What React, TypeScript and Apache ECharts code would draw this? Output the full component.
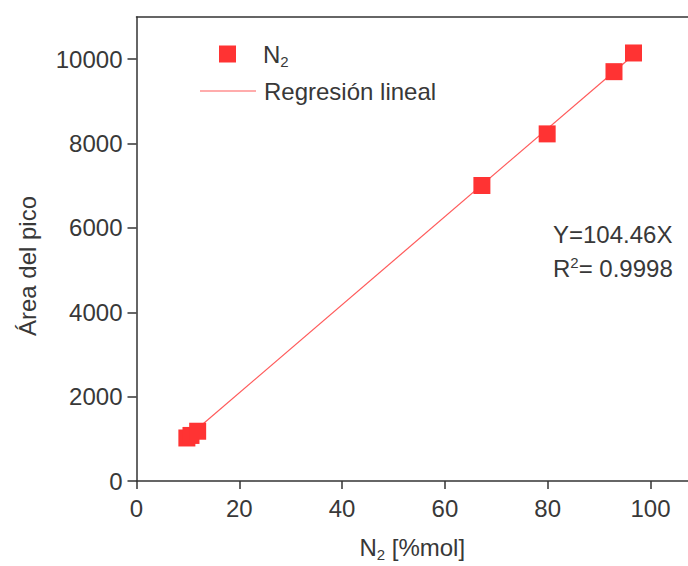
import React, { useEffect, useRef } from "react";
import * as echarts from "echarts";

const n2X = [9.8, 10.6, 11.9, 67.2, 79.9, 92.9, 96.7];
const areaY = [1020, 1080, 1180, 7006, 8229, 9704, 10147];
const regX = [11.9, 96.7];
const regY = [1243, 10101];
const xTicks = { min: 0, max: 107.3, interval: 20 };
const yTicks = { min: 0, max: 11000, interval: 2000 };

const FONT = "Liberation Sans, Arial, sans-serif";
const TXT = "#383838";
const FS = 24;

export default function App() {
  const ref = useRef<HTMLDivElement>(null);
  useEffect(() => {
    if (!ref.current) return;
    const chart = echarts.init(ref.current, null, { renderer: "svg" });
    const rich = {
      b: { fontSize: FS, fontFamily: FONT, color: TXT },
      s: { fontSize: 15, fontFamily: FONT, color: TXT, verticalAlign: "bottom" as const, padding: [14, 0, 0, 0] },
    };
    const axisLineStyle = { color: "#333", width: 1.5 };
    chart.setOption({
      animation: false,
      textStyle: { fontFamily: FONT },
      grid: {
        left: 136.5,
        top: 17,
        right: 0,
        bottom: 85,
        show: false,
        containLabel: false,
        outerBoundsMode: "none",
      },
      legend: [
        {
          data: [{ name: "N2", icon: "rect" }],
          left: 219,
          top: 42,
          padding: 0,
          itemWidth: 17,
          itemHeight: 17,
          formatter: () => "{b|N}{s|2}",
          textStyle: { rich, padding: [0, 0, 0, 22] },
        },
        {
          data: [{ name: "Regresión lineal", icon: "path://M0,0H56V1.2H0Z" }],
          left: 200,
          top: 79,
          padding: 0,
          itemWidth: 56,
          itemHeight: 22,
          textStyle: { fontSize: FS, fontFamily: FONT, color: TXT, padding: [0, 0, 0, 3] },
        },
      ],
      xAxis: [
        {
          type: "value",
          min: xTicks.min,
          max: xTicks.max,
          interval: xTicks.interval,
          name: "{b|N}{s|2}{b| [%mol]}",
          nameLocation: "middle",
          nameGap: 52,
          nameTextStyle: { rich },
          axisLine: { show: true, lineStyle: axisLineStyle },
          axisTick: { show: true, inside: false, length: 8, lineStyle: axisLineStyle },
          axisLabel: {
            fontSize: FS,
            fontFamily: FONT,
            color: TXT,
            margin: 15,
            showMaxLabel: false,
            formatter: (v: number) => String(v),
          },
          splitLine: { show: false },
        },
        {
          type: "value",
          position: "top",
          min: xTicks.min,
          max: xTicks.max,
          interval: xTicks.interval,
          axisLine: { show: true, onZero: false, lineStyle: axisLineStyle },
          axisTick: { show: false },
          axisLabel: { show: false },
          splitLine: { show: false },
        },
      ],
      yAxis: {
        type: "value",
        min: yTicks.min,
        max: yTicks.max,
        interval: yTicks.interval,
        name: "Área del pico",
        nameLocation: "middle",
        nameGap: 97,
        nameTextStyle: { fontSize: FS, fontFamily: FONT, color: TXT, padding: [0, 34, 0, 0] },
        axisLine: { show: true, lineStyle: axisLineStyle },
        axisTick: { show: true, inside: false, length: 9, lineStyle: axisLineStyle },
        axisLabel: {
          fontSize: FS,
          fontFamily: FONT,
          color: TXT,
          margin: 14,
          showMaxLabel: false,
          formatter: (v: number) => String(v),
        },
        splitLine: { show: false },
      },
      series: [
        {
          name: "Regresión lineal",
          type: "line",
          data: regX.map((x, i) => [x, regY[i]]),
          showSymbol: false,
          symbol: "none",
          lineStyle: { color: "#ff5a5a", width: 1.2 },
          itemStyle: { color: "#ff5a5a" },
          z: 2,
        },
        {
          name: "N2",
          type: "scatter",
          data: n2X.map((x, i) => [x, areaY[i]]),
          symbol: "rect",
          symbolSize: 17,
          itemStyle: { color: "#ff3333", opacity: 1 },
          z: 3,
        },
      ],
      graphic: [
        {
          type: "text",
          left: 553,
          top: 222,
          style: { text: "Y=104.46X", fontSize: FS, fontFamily: FONT, fill: TXT },
        },
        {
          type: "text",
          left: 553,
          top: 255,
          style: {
            text: "{b|R}{sup|2}{b|= 0.9998}",
            rich: {
              b: { fontSize: FS, fontFamily: FONT, fill: TXT },
              sup: { fontSize: 15, fontFamily: FONT, fill: TXT, verticalAlign: "top", padding: [0, 0, 12, 0] },
            },
          },
        },
      ],
    });
    return () => chart.dispose();
  }, []);
  return (
    <div style={{ width: 688, height: 566, position: "absolute", left: 0, top: 0, overflow: "hidden" }}>
      <div ref={ref} style={{ width: 688, height: 566 }} />
    </div>
  );
}
